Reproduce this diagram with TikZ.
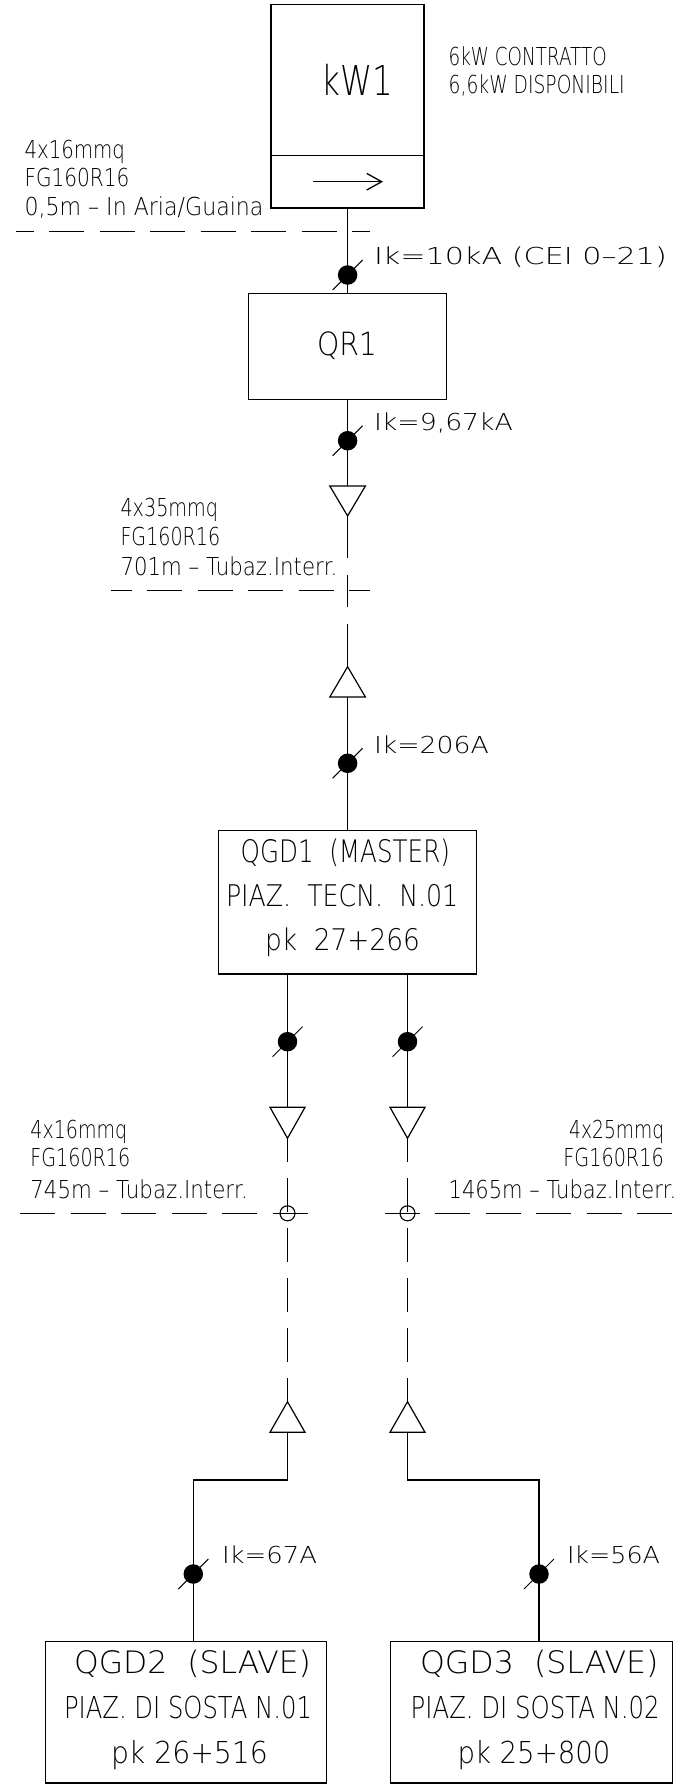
\documentclass[tikz,border=0pt]{standalone}
\usepackage{fontspec}
\usepackage{graphicx}
\usetikzlibrary{calc}
\IfFontExistsTF{DejaVu Sans ExtraLight}{\setmainfont{DejaVu Sans ExtraLight}}{\setmainfont{DejaVu Sans}}
\newcommand\cadtxt[3]{\resizebox{#1pt}{\height}{\fontsize{#2pt}{#2pt}\selectfont #3}}
\begin{document}
\begin{tikzpicture}[x=1pt,y=-1pt,line width=1.3pt,line join=miter,
  box/.style={draw,rectangle,inner sep=0pt,line width=1.3pt},
  lbl/.style={anchor=base west,inner sep=0pt,outer sep=0pt},
  dotnode/.style={circle,fill=black,draw=none,minimum size=19.5pt,inner sep=0pt},
  ring/.style={circle,draw,minimum size=15pt,inner sep=0pt,line width=1.1pt},
  wire/.style={line width=1.3pt},
  cable/.style={line width=1pt,dash pattern=on 35pt off 15.5pt},
  slash/.style={line width=1pt},
  tri/.style={line width=1.2pt,line join=miter}]
\useasboundingbox (0,0) rectangle (700,1786);
\def\XM{347.6}
\def\XL{287.5}
\def\XR{407.5}
% boxes
\node[box,minimum width=153pt,minimum height=203.5pt] (kw1) at (\XM,106.3) {};
\node[box,minimum width=198.2pt,minimum height=106pt] (qr1) at (\XM,346.3) {};
\node[box,minimum width=258.3pt,minimum height=143.3pt] (qgd1) at (\XM,902.35) {};
\node[box,minimum width=281pt,minimum height=141.3pt] (qgd2) at (186.2,1712.35) {};
\node[box,minimum width=282pt,minimum height=141.3pt] (qgd3) at (531.7,1712.35) {};
% kW1 details
\coordinate (dv) at (0,155.7);
\draw[wire] (kw1.west |- dv) -- (kw1.east |- dv);
\coordinate (arA) at (313.3,181.7);
\coordinate (arB) at (381.7,181.7);
\draw[wire] (arA) -- (arB);
\draw[wire] ($(arB)+(-15,-8.3)$) -- (arB) -- ($(arB)+(-15,8.3)$);
% texts
\node[lbl] (tkw) at (321.7,95.7) {\cadtxt{71.6}{41.2}{kW1}};
\node[lbl] (tc1) at (448.7,65) {\cadtxt{158}{24.7}{6kW CONTRATTO}};
\node[lbl] (tc2) at (448.7,93) {\cadtxt{176}{24.7}{6,6kW DISPONIBILI}};
\node[lbl] (ca1) at (24.5,158.3) {\cadtxt{100.5}{24.7}{4x16mmq}};
\node[lbl] (ca2) at (24.5,186.7) {\cadtxt{105}{24.7}{FG160R16}};
\node[lbl] (ca3) at (24.5,215) {\cadtxt{239}{24.7}{0,5m – In Aria/Guaina}};
\node[lbl] (ik1) at (374,264) {\cadtxt{293}{23.3}{Ik=10kA (CEI 0–21)}};
\node[lbl] (tqr) at (317,355) {\cadtxt{60}{32}{QR1}};
\node[lbl] (ik2) at (374,430) {\cadtxt{139}{23.3}{Ik=9,67kA}};
\node[lbl] (cb1) at (120.5,516.7) {\cadtxt{97.5}{24.7}{4x35mmq}};
\node[lbl] (cb2) at (120.5,545) {\cadtxt{99.7}{24.7}{FG160R16}};
\node[lbl] (cb3) at (120.5,575) {\cadtxt{217}{24.7}{701m – Tubaz.Interr.}};
\node[lbl] (ik3) at (374,753.5) {\cadtxt{115}{23.3}{Ik=206A}};
\node[lbl] (q1a) at (240.7,862.7) {\cadtxt{209.3}{31}{QGD1\ \ (MASTER)}};
\node[lbl] (q1b) at (226,906.7) {\cadtxt{232.3}{29.8}{PIAZ.\ \ TECN.\ \ N.01}};
\node[lbl] (q1c) at (265,950) {\cadtxt{155}{29.8}{pk\ \ 27+266}};
\node[lbl] (cc1) at (30.4,1138.3) {\cadtxt{96.8}{24.7}{4x16mmq}};
\node[lbl] (cc2) at (30.4,1166.7) {\cadtxt{99.9}{24.7}{FG160R16}};
\node[lbl] (cc3) at (30.4,1198.3) {\cadtxt{217.4}{24.7}{745m – Tubaz.Interr.}};
\node[lbl] (cd1) at (569.2,1138.3) {\cadtxt{95}{24.7}{4x25mmq}};
\node[lbl] (cd2) at (563.4,1166.7) {\cadtxt{100.4}{24.7}{FG160R16}};
\node[lbl] (cd3) at (448.7,1198.3) {\cadtxt{227.6}{24.7}{1465m – Tubaz.Interr.}};
\node[lbl] (ik4) at (222,1563) {\cadtxt{95}{23.3}{Ik=67A}};
\node[lbl] (ik5) at (567,1563) {\cadtxt{93}{23.3}{Ik=56A}};
\node[lbl] (q2a) at (74,1673.5) {\cadtxt{237}{30.9}{QGD2\ \ (SLAVE)}};
\node[lbl] (q2b) at (64,1718) {\cadtxt{248}{30.2}{PIAZ. DI SOSTA N.01}};
\node[lbl] (q2c) at (111,1763) {\cadtxt{157}{30.2}{pk 26+516}};
\node[lbl] (q3a) at (420,1673.5) {\cadtxt{238.5}{30.9}{QGD3\ \ (SLAVE)}};
\node[lbl] (q3b) at (410.7,1718) {\cadtxt{249}{30.2}{PIAZ. DI SOSTA N.02}};
\node[lbl] (q3c) at (457.5,1763) {\cadtxt{153}{30.2}{pk 25+800}};
% cable marker lines
\draw[cable,dash phase=17.1pt] (15.6,231) -- (370,231);
\draw[cable,dash phase=13.9pt] (110.7,590.7) -- (369.6,590.7);
\draw[cable] (20,1213.3) -- (309.4,1213.3);
\draw[cable] (384.8,1213.3) -- (675,1213.3);
% main feeder
\coordinate (t1b) at (\XM,486);
\coordinate (t1a) at (\XM,516);
\coordinate (t2a) at (\XM,666.7);
\coordinate (t2b) at (\XM,697);
\coordinate (s1) at (\XM,558.3);
\coordinate (s2) at (\XM,575);
\coordinate (s3) at (\XM,607.3);
\coordinate (s4) at (\XM,624);
\draw[wire] (kw1.south) -- (qr1.north);
\draw[wire] (qr1.south) -- (t1b);
\draw[tri] ($(t1b)+(-17.8,0)$) -- ($(t1b)+(17.8,0)$) -- (t1a) -- cycle;
\draw[wire] (t1a) -- (s1);
\draw[wire] (s2) -- (s3);
\draw[wire] (s4) -- (t2a);
\draw[tri] ($(t2b)+(-17.8,0)$) -- ($(t2b)+(17.8,0)$) -- (t2a) -- cycle;
\draw[wire] (t2b) -- (qgd1.north);
% branches
\coordinate (t3b) at (\XL,1107.3);
\coordinate (t3a) at (\XL,1138.3);
\coordinate (t4b) at (\XR,1107.3);
\coordinate (t4a) at (\XR,1138.3);
\coordinate (t5a) at (\XL,1401.7);
\coordinate (t5b) at (\XL,1432.3);
\coordinate (t6a) at (\XR,1401.7);
\coordinate (t6b) at (\XR,1432.3);
\coordinate (fL) at (193.3,1480);
\coordinate (fR) at (539,1480);
\draw[wire] (qgd1.south -| t3b) -- (t3b);
\draw[wire] (qgd1.south -| t4b) -- (t4b);
\draw[tri] ($(t3b)+(-17.5,0)$) -- ($(t3b)+(17.5,0)$) -- (t3a) -- cycle;
\draw[tri] ($(t4b)+(-17.5,0)$) -- ($(t4b)+(17.5,0)$) -- (t4a) -- cycle;
\draw[wire,dash pattern=on 33.33pt off 16.67pt,dash phase=10pt] (t3a) -- (t5a);
\draw[wire,dash pattern=on 33.33pt off 16.67pt,dash phase=10pt] (t4a) -- (t6a);
\node[ring] (r1) at (\XL,1213.3) {};
\node[ring] (r2) at (\XR,1213.3) {};
\draw[tri] ($(t5b)+(-17.5,0)$) -- ($(t5b)+(17.5,0)$) -- (t5a) -- cycle;
\draw[tri] ($(t6b)+(-17.5,0)$) -- ($(t6b)+(17.5,0)$) -- (t6a) -- cycle;
\draw[wire] (t5b) -- (t5b |- fL) -- (fL) -- (fL |- qgd2.north);
\draw[wire] (t6b) -- (t6b |- fR) -- (fR) -- (fR |- qgd3.north);
% breakers (dots with slash)
\node[dotnode] (d1) at (\XM,275) {};
\node[dotnode] (d2) at (\XM,440.7) {};
\node[dotnode] (d3) at (\XM,763.3) {};
\node[dotnode] (d4) at (\XL,1041.7) {};
\node[dotnode] (d5) at (\XR,1041.7) {};
\node[dotnode] (d6) at (193.3,1574) {};
\node[dotnode] (d7) at (539,1574) {};
\foreach \d in {d1,d2,d3,d4,d5,d6,d7}{
  \draw[slash] ($(\d)+(-15,15)$) -- ($(\d)+(15,-15)$);
}
\end{tikzpicture}
\end{document}
